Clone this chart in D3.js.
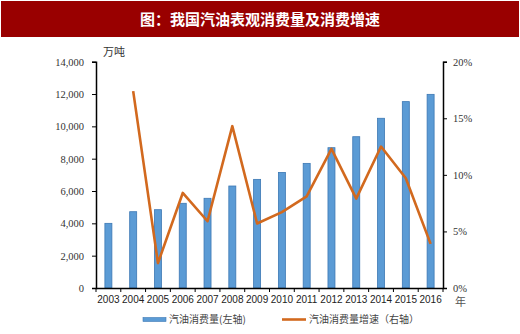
<!DOCTYPE html>
<html><head><meta charset="utf-8">
<script src="https://cdn.jsdelivr.net/npm/d3@7"></script>
<style>body{margin:0;background:#fff}svg{display:block}</style>
</head><body>
<svg id="c" width="520" height="334"></svg>
<script>
const years = ["2003","2004","2005","2006","2007","2008","2009","2010","2011","2012","2013","2014","2015","2016"];
const consumption = [4000,4720,4845,5240,5550,6310,6720,7150,7710,8680,9360,10500,11530,11980];
const growth = [null,17.4,2.2,8.4,5.9,14.3,5.7,6.7,8.1,12.3,7.9,12.5,9.7,3.9];
const leftTicks = [0,2000,4000,6000,8000,10000,12000,14000];
const rightTicks = [0,5,10,15,20];
const title = "图：我国汽油表观消费量及消费增速";
const legendLabels = ["汽油消费量(左轴)","汽油消费量增速（右轴）"];

const svg = d3.select("#c");
const m = {l:96, r:443, t:61.7, b:288};
const serif = "'Liberation Serif','DejaVu Serif',serif";
const sans = "'Liberation Sans','DejaVu Sans',sans-serif";
const cjk = "'Noto Sans CJK SC',sans-serif";

svg.append("rect").attr("x",1).attr("y",1).attr("width",518).attr("height",36).attr("fill","#990000");
svg.append("text").attr("x",260).attr("y",24.5).attr("text-anchor","middle")
  .attr("fill","#fff").attr("font-family",cjk).attr("font-weight","bold").attr("font-size",15).text(title);

const x = d3.scaleBand().domain(years).range([m.l,m.r]);
const yL = d3.scaleLinear().domain([0,14000]).range([m.b,m.t]);
const yR = d3.scaleLinear().domain([0,20]).range([m.b,m.t]);

const bw = 7;
svg.append("g").selectAll("rect").data(consumption).join("rect")
  .attr("x",(d,i)=>x(years[i])+x.bandwidth()/2-bw/2)
  .attr("y",d=>yL(d)).attr("width",bw).attr("height",d=>yL(0)-yL(d))
  .attr("fill","#5B9BD5").attr("stroke","#3C78B4").attr("stroke-width",0.8);

const line = d3.line().defined(d=>d!=null)
  .x((d,i)=>x(years[i])+x.bandwidth()/2).y(d=>yR(d));
svg.append("path").datum(growth).attr("d",line).attr("fill","none")
  .attr("stroke","#D2691E").attr("stroke-width",2.6).attr("stroke-linejoin","round");

// left axis
const gl = svg.append("g").attr("transform",`translate(${m.l},0)`)
  .call(d3.axisLeft(yL).tickValues(leftTicks).tickSize(4).tickPadding(8).tickFormat(d3.format(",")));
gl.selectAll("text").attr("font-family",serif).attr("font-size",10.5).attr("fill","#333");
// right axis
const gr = svg.append("g").attr("transform",`translate(${m.r},0)`)
  .call(d3.axisRight(yR).tickValues(rightTicks).tickSize(4).tickPadding(6).tickFormat(d=>d+"%"));
gr.selectAll("text").attr("font-family",serif).attr("font-size",10.5).attr("fill","#333");
// bottom axis
const gb = svg.append("g").attr("transform",`translate(0,${m.b})`)
  .call(d3.axisBottom(x).tickSize(0).tickPadding(8));
gb.selectAll("text").attr("font-family",sans).attr("font-size",10).attr("fill","#222");
gb.selectAll(".tick line").remove();
gb.append("g").selectAll("line").data(years.concat(["end"])).join("line")
  .attr("x1",(d,i)=>m.l+i*x.step()).attr("x2",(d,i)=>m.l+i*x.step())
  .attr("y1",0).attr("y2",4).attr("stroke","#000");
[gl,gr,gb].forEach(g=>{g.selectAll("path.domain").attr("stroke","#000").attr("stroke-width",1.5);
  g.selectAll(".tick line").attr("stroke","#000");});

svg.append("text").attr("x",103).attr("y",56).attr("font-family",cjk).attr("font-size",11).attr("fill","#333").text("万吨");
svg.append("text").attr("x",455).attr("y",306).attr("font-family",cjk).attr("font-size",11).attr("fill","#555").text("年");

// legend
svg.append("rect").attr("x",143).attr("y",317.5).attr("width",23).attr("height",4)
  .attr("fill","#5B9BD5").attr("stroke","#3C78B4").attr("stroke-width",0.6);
svg.append("text").attr("x",169).attr("y",323).attr("font-family",cjk).attr("font-size",10).attr("fill","#444").text(legendLabels[0]);
svg.append("line").attr("x1",282).attr("x2",306).attr("y1",319.5).attr("y2",319.5)
  .attr("stroke","#D2691E").attr("stroke-width",2.6);
svg.append("text").attr("x",309).attr("y",323).attr("font-family",cjk).attr("font-size",10).attr("fill","#444").text(legendLabels[1]);
</script>
</body></html>
